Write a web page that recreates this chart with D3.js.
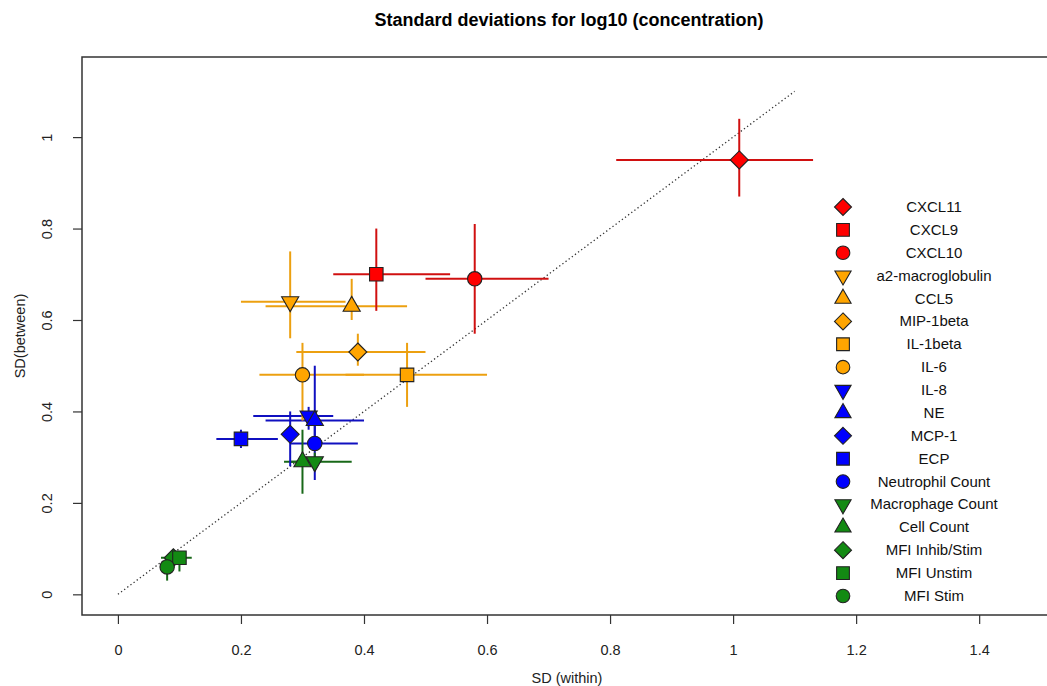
<!DOCTYPE html>
<html>
<head>
<meta charset="utf-8">
<script src="https://cdn.jsdelivr.net/npm/d3@7"></script>
<style>
  body { margin: 0; background: #fff; }
  text { font-family: "Liberation Sans", Arial, sans-serif; }
</style>
</head>
<body>
<svg width="1047" height="686"></svg>
<script>
// marker names, in legend order
var names = ["CXCL11", "CXCL9", "CXCL10", "a2-macroglobulin", "CCL5", "MIP-1beta", "IL-1beta", "IL-6",
  "IL-8", "NE", "MCP-1", "ECP", "Neutrophil Count", "Macrophage Count", "Cell Count",
  "MFI Inhib/Stim", "MFI Unstim", "MFI Stim"];
var groups = ["red", "red", "red", "orange", "orange", "orange", "orange", "orange",
  "blue", "blue", "blue", "blue", "blue", "green", "green", "green", "green", "green"];
var shapes = ["diamond", "square", "circle", "down", "up", "diamond", "square", "circle",
  "down", "up", "diamond", "square", "circle", "down", "up", "diamond", "square", "circle"];

// SD within (x) with its interval
var sdWithin = [1.01, 0.42, 0.58, 0.28, 0.38, 0.39, 0.47, 0.30, 0.31, 0.32, 0.28, 0.20, 0.32, 0.32, 0.30, 0.09, 0.10, 0.08];
var withinLo = [0.81, 0.35, 0.50, 0.20, 0.24, 0.29, 0.37, 0.23, 0.22, 0.24, 0.27, 0.16, 0.28, 0.28, 0.27, 0.08, 0.07, 0.075];
var withinHi = [1.13, 0.54, 0.70, 0.37, 0.47, 0.50, 0.60, 0.40, 0.35, 0.40, 0.29, 0.26, 0.39, 0.38, 0.33, 0.10, 0.12, 0.085];

// SD between (y) with its interval
var sdBetween = [0.95, 0.70, 0.69, 0.64, 0.63, 0.53, 0.48, 0.48, 0.39, 0.38, 0.35, 0.34, 0.33, 0.29, 0.29, 0.08, 0.08, 0.06];
var betweenLo = [0.87, 0.62, 0.57, 0.56, 0.60, 0.50, 0.41, 0.38, 0.36, 0.33, 0.28, 0.32, 0.25, 0.27, 0.22, 0.07, 0.05, 0.03];
var betweenHi = [1.04, 0.80, 0.81, 0.75, 0.69, 0.57, 0.55, 0.55, 0.41, 0.50, 0.40, 0.36, 0.38, 0.31, 0.36, 0.09, 0.08, 0.07];

var xTicks = [0, 0.2, 0.4, 0.6, 0.8, 1, 1.2, 1.4];
var yTicks = [0, 0.2, 0.4, 0.6, 0.8, 1];
var identityLine = [0, 1.1];

var fillCol = { red: "#ff0000", orange: "#ffa500", blue: "#0000ff", green: "#138a13" };
var barCol = { red: "#d01010", orange: "#eca010", blue: "#1010c0", green: "#186818" };

var svg = d3.select("svg");
var box = { left: 82, right: 1052, top: 57, bottom: 615 };

var x = d3.scaleLinear().domain([-0.0584, 1.5184]).range([box.left, box.right]);
var y = d3.scaleLinear().domain([-0.0452, 1.1752]).range([box.bottom, box.top]);

// R-ish symbol paths
function symbolPath(shape, cx, cy, s) {
  if (shape == "diamond") {
    return "M" + cx + "," + (cy - s) + "L" + (cx + s) + "," + cy + "L" + cx + "," + (cy + s) + "L" + (cx - s) + "," + cy + "Z";
  } else if (shape == "square") {
    var h = s * 0.75;
    return "M" + (cx - h) + "," + (cy - h) + "h" + 2 * h + "v" + 2 * h + "h" + (-2 * h) + "Z";
  } else if (shape == "circle") {
    var r = s * 0.8;
    return "M" + (cx - r) + "," + cy + "a" + r + "," + r + " 0 1,0 " + 2 * r + ",0a" + r + "," + r + " 0 1,0 " + (-2 * r) + ",0Z";
  } else {
    var R = s * 1.1, xc = R * 0.866, yc = R * 0.5;
    var d = shape == "up" ? 1 : -1;
    return "M" + cx + "," + (cy - d * R) + "L" + (cx + xc) + "," + (cy + d * yc) + "L" + (cx - xc) + "," + (cy + d * yc) + "Z";
  }
}

// title
svg.append("text")
  .attr("x", 569).attr("y", 26)
  .attr("text-anchor", "middle")
  .style("font-size", "18px").style("font-weight", "bold")
  .text("Standard deviations for log10 (concentration)");

// axes
var xAxis = svg.append("g")
  .attr("transform", "translate(0," + box.bottom + ")")
  .call(d3.axisBottom(x).tickValues(xTicks).tickFormat(d3.format("")).tickSize(9).tickSizeOuter(0).tickPadding(21));
xAxis.select(".domain").remove();
xAxis.selectAll("line").attr("stroke", "#333").attr("stroke-width", 1.2);
xAxis.selectAll("text").style("font-size", "14.5px").attr("fill", "#222").style("font-family", "Liberation Sans, Arial");

var yAxis = svg.append("g")
  .attr("transform", "translate(" + box.left + ",0)")
  .call(d3.axisLeft(y).tickValues(yTicks).tickFormat(d3.format("")).tickSize(9).tickSizeOuter(0));
yAxis.select(".domain").remove();
yAxis.selectAll("line").attr("stroke", "#333").attr("stroke-width", 1.2);
yAxis.selectAll("text")
  .attr("x", 0).attr("dy", 0)
  .attr("transform", "translate(-30,0) rotate(-90)")
  .attr("text-anchor", "middle")
  .style("font-size", "14.5px").attr("fill", "#222").style("font-family", "Liberation Sans, Arial");

svg.append("text")
  .attr("x", 567).attr("y", 683)
  .attr("text-anchor", "middle")
  .style("font-size", "14.5px").attr("fill", "#222")
  .text("SD (within)");

svg.append("text")
  .attr("transform", "translate(25," + ((box.top + box.bottom) / 2) + ") rotate(-90)")
  .attr("text-anchor", "middle")
  .style("font-size", "14.5px").attr("fill", "#222")
  .text("SD(between)");

// plot box
svg.append("rect")
  .attr("x", box.left).attr("y", box.top)
  .attr("width", box.right - box.left).attr("height", box.bottom - box.top)
  .attr("fill", "none").attr("stroke", "#333").attr("stroke-width", 1.5);

// y = x reference
svg.append("line")
  .attr("x1", x(identityLine[0])).attr("y1", y(identityLine[0]))
  .attr("x2", x(identityLine[1])).attr("y2", y(identityLine[1]))
  .attr("stroke", "#333").attr("stroke-width", 1.3).attr("stroke-dasharray", "1.3,2.6");

var idx = d3.range(names.length);

// error bars
var bars = svg.append("g");
bars.selectAll("line.h").data(idx).enter().append("line")
  .attr("x1", function (i) { return x(withinLo[i]); })
  .attr("x2", function (i) { return x(withinHi[i]); })
  .attr("y1", function (i) { return y(sdBetween[i]); })
  .attr("y2", function (i) { return y(sdBetween[i]); })
  .attr("stroke", function (i) { return barCol[groups[i]]; })
  .attr("stroke-width", 2);
bars.selectAll("line.v").data(idx).enter().append("line")
  .attr("x1", function (i) { return x(sdWithin[i]); })
  .attr("x2", function (i) { return x(sdWithin[i]); })
  .attr("y1", function (i) { return y(betweenLo[i]); })
  .attr("y2", function (i) { return y(betweenHi[i]); })
  .attr("stroke", function (i) { return barCol[groups[i]]; })
  .attr("stroke-width", 2);

// points
svg.append("g").selectAll("path").data(idx).enter().append("path")
  .attr("d", function (i) { return symbolPath(shapes[i], x(sdWithin[i]), y(sdBetween[i]), 9); })
  .attr("fill", function (i) { return fillCol[groups[i]]; })
  .attr("stroke", "#222").attr("stroke-width", 1.1);

// legend
var legend = svg.append("g");
var ly = d3.scaleLinear().domain([0, names.length - 1]).range([207, 596]);
legend.selectAll("path").data(idx).enter().append("path")
  .attr("d", function (i) { return symbolPath(shapes[i], 843, ly(i), 8.5); })
  .attr("fill", function (i) { return fillCol[groups[i]]; })
  .attr("stroke", "#222").attr("stroke-width", 1.1);
legend.selectAll("text").data(idx).enter().append("text")
  .attr("x", 934).attr("y", function (i) { return ly(i) + 5; })
  .attr("text-anchor", "middle")
  .style("font-size", "15px").attr("fill", "#111")
  .text(function (i) { return names[i]; });
</script>
</body>
</html>
